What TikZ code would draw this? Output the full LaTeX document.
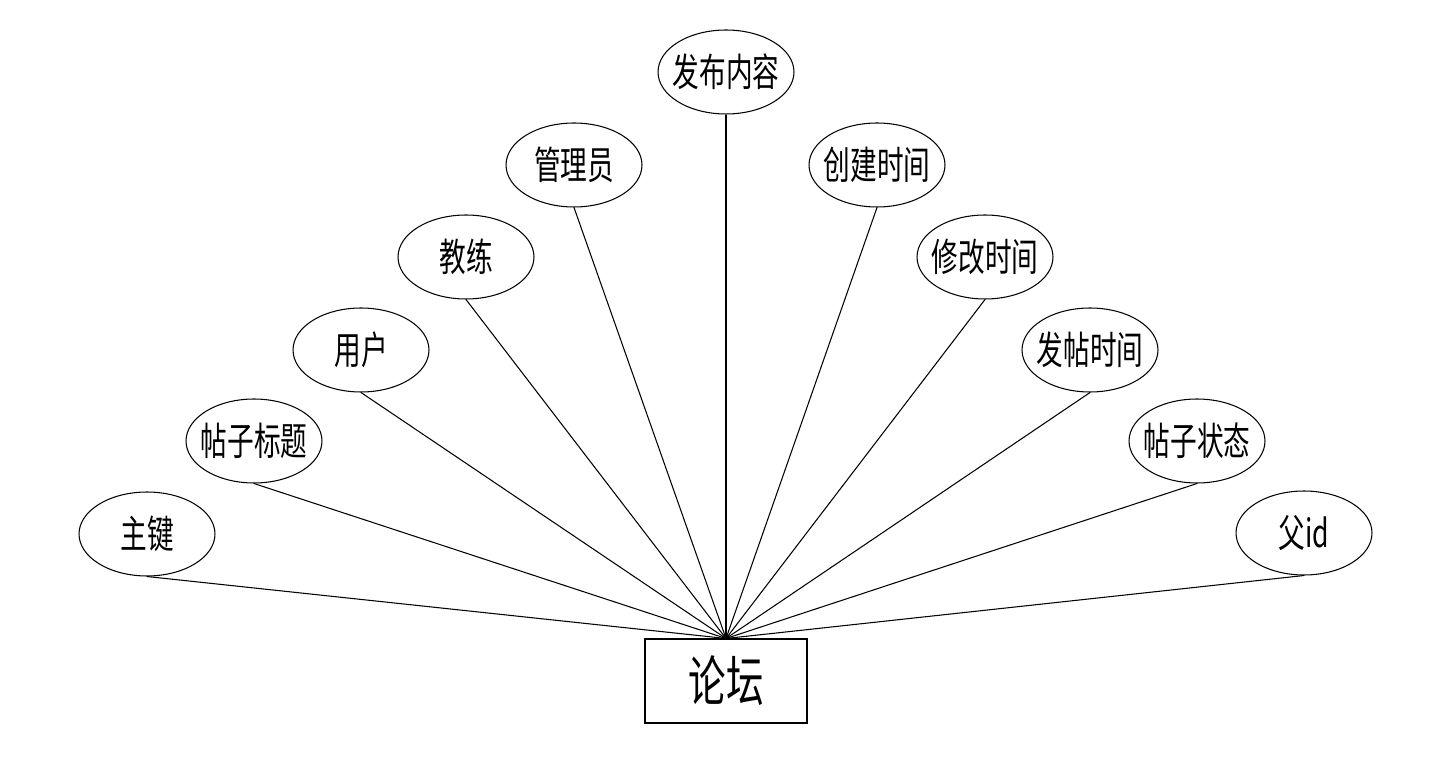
\documentclass[tikz,border=0pt]{standalone}
\usepackage{fontspec}
\newfontfamily\cjk[FakeStretch=0.69]{Noto Sans CJK SC}
\usetikzlibrary{shapes.geometric}

\begin{document}
\begin{tikzpicture}[
    x=0.02cm, y=-0.02cm,
    every node/.style={font=\cjk\fontsize{22pt}{25pt}\selectfont},
    attr/.style={ellipse, draw=black, line width=0.6pt, minimum width=2.72cm,
                 minimum height=1.68cm, inner xsep=-0.3cm, inner ysep=0pt},
    ent/.style={rectangle, draw=black, line width=0.6pt, minimum width=3.24cm,
                minimum height=1.68cm, inner sep=0pt,
                font=\cjk\fontsize{31pt}{34pt}\selectfont},
    lnk/.style={draw=black, line width=0.6pt}
  ]
  \useasboundingbox (0,0) rectangle (1440,766);

  \node[ent] (forum) at (726,681) {论坛};

  %% left wing
  \node[attr] (pk)    at (147,534) {主键};
  \node[attr] (title) at (254,441) {帖子标题};
  \node[attr] (user)  at (361,350) {用户};
  \node[attr] (coach) at (466,257) {教练};
  \node[attr] (admin) at (574,165) {管理员};

  %% top
  \node[attr] (body)  at (726,72)  {发布内容};

  %% right wing
  \node[attr] (ctime) at (877,165)  {创建时间};
  \node[attr] (mtime) at (985,257)  {修改时间};
  \node[attr] (ptime) at (1090,350) {发帖时间};
  \node[attr] (state) at (1197,441) {帖子状态};
  \node[attr] (pid)   at (1304,533) {父id};

  %% links to entity
  \draw[lnk] (pk.south)    -- (forum.north);
  \draw[lnk] (title.south) -- (forum.north);
  \draw[lnk] (user.south)  -- (forum.north);
  \draw[lnk] (coach.south) -- (forum.north);
  \draw[lnk] (admin.south) -- (forum.north);
  \draw[lnk] (body.south)  -- (forum.north);
  \draw[lnk] (ctime.south) -- (forum.north);
  \draw[lnk] (mtime.south) -- (forum.north);
  \draw[lnk] (ptime.south) -- (forum.north);
  \draw[lnk] (state.south) -- (forum.north);
  \draw[lnk] (pid.south)   -- (forum.north);

\end{tikzpicture}
\end{document}
